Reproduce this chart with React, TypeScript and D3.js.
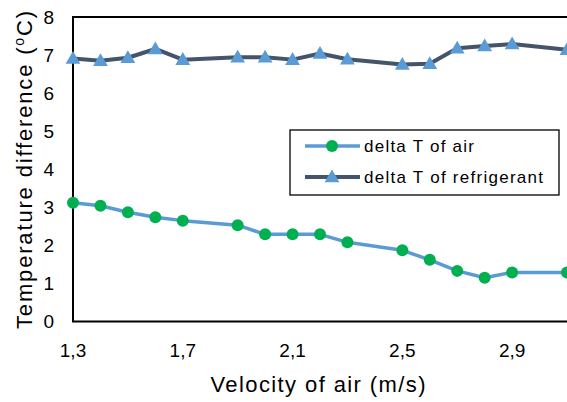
import * as d3 from "d3";
import { useEffect, useRef } from "react";

const velocity = [1.3, 1.4, 1.5, 1.6, 1.7, 1.9, 2.0, 2.1, 2.2, 2.3, 2.5, 2.6, 2.7, 2.8, 2.9, 3.1];
const deltaAir = [3.12, 3.04, 2.87, 2.74, 2.65, 2.53, 2.29, 2.29, 2.29, 2.08, 1.87, 1.62, 1.33, 1.15, 1.29, 1.29];
const deltaRefrigerant = [6.91, 6.85, 6.93, 7.16, 6.88, 6.94, 6.94, 6.88, 7.04, 6.89, 6.75, 6.77, 7.18, 7.24, 7.29, 7.14];
const xTicks = [1.3, 1.7, 2.1, 2.5, 2.9];
const yTicks = [0, 1, 2, 3, 4, 5, 6, 7, 8];
const seriesNames = ["delta T of air", "delta T of refrigerant"];

export default function App() {
  const svgRef = useRef<SVGSVGElement>(null);
  const width = 567;
  const height = 402;

  useEffect(() => {
    const svg = d3.select(svgRef.current);
    svg.selectAll("*").remove();
    // no serif font in the sandbox, so a sans stretched to the reference widths
    const font = "'Liberation Sans', Arial, sans-serif";

    const x = d3.scaleLinear([1.3, 3.1], [73, 567]);
    const y = d3.scaleLinear([0, 8], [321.5, 17]);

    svg.append("rect").attr("width", width).attr("height", height).attr("fill", "white");

    // plot frame
    svg.append("path")
      .attr("d", `M ${x(3.1) + 5} ${y(8)} H ${x(1.3)} V ${y(0)} H ${x(3.1) + 5}`)
      .attr("fill", "none")
      .attr("stroke", "black")
      .attr("stroke-width", 2);

    // y tick labels
    svg.selectAll(".ytick").data(yTicks).join("text")
      .attr("x", 54)
      .attr("y", d => y(d))
      .attr("dy", "0.36em")
      .attr("text-anchor", "end")
      .style("font-family", font)
      .style("font-size", "19px")
      .text(d => d);

    // x tick labels
    svg.selectAll(".xtick").data(xTicks).join("text")
      .attr("x", d => x(d))
      .attr("y", 357)
      .attr("text-anchor", "middle")
      .style("font-family", font)
      .style("font-size", "19px")
      .text(d => d.toFixed(1).replace(".", ","));

    // axis titles
    svg.append("text")
      .attr("x", 318)
      .attr("y", 392)
      .attr("text-anchor", "middle")
      .style("font-family", font)
      .style("font-size", "22px")
      .attr("textLength", 215)
      .text("Velocity of air (m/s)");

    const yTitle = svg.append("text")
      .attr("transform", `translate(32, ${170}) rotate(-90)`)
      .attr("text-anchor", "middle")
      .style("font-family", font)
      .style("font-size", "22px")
      .attr("textLength", 318);
    yTitle.append("tspan").text("Temperature difference (");
    yTitle.append("tspan").attr("baseline-shift", "super").style("font-size", "14px").text("o");
    yTitle.append("tspan").text("C)");

    const plot = svg.append("g");

    const air = velocity.map((v, i) => [v, deltaAir[i]] as [number, number]);
    const refr = velocity.map((v, i) => [v, deltaRefrigerant[i]] as [number, number]);
    const line = d3.line<[number, number]>().x(d => x(d[0])).y(d => y(d[1]));

    plot.append("path").attr("d", line(refr)).attr("fill", "none")
      .attr("stroke", "#44546A").attr("stroke-width", 4).attr("stroke-linejoin", "round");
    const tri = d3.symbol().type(d3.symbolTriangle).size(95);
    plot.selectAll(".tri").data(refr).join("path")
      .attr("d", tri)
      .attr("transform", d => `translate(${x(d[0])}, ${y(d[1]) + 1})`)
      .attr("fill", "#5B9BD5");

    plot.append("path").attr("d", line(air)).attr("fill", "none")
      .attr("stroke", "#5B9BD5").attr("stroke-width", 3.5).attr("stroke-linejoin", "round");
    plot.selectAll(".dot").data(air).join("circle")
      .attr("cx", d => x(d[0]))
      .attr("cy", d => y(d[1]))
      .attr("r", 6)
      .attr("fill", "#00B050");

    // legend
    const lg = svg.append("g");
    lg.append("rect").attr("x", 290).attr("y", 130).attr("width", 269).attr("height", 65)
      .attr("fill", "white").attr("stroke", "black").attr("stroke-width", 1.3);
    const rows = [
      { name: seriesNames[0], ly: 146, stroke: "#5B9BD5", sw: 3.5, len: 110 },
      { name: seriesNames[1], ly: 177, stroke: "#44546A", sw: 4, len: 179 },
    ];
    rows.forEach((r, i) => {
      lg.append("line").attr("x1", 305).attr("x2", 360).attr("y1", r.ly).attr("y2", r.ly)
        .attr("stroke", r.stroke).attr("stroke-width", r.sw);
      if (i === 0) {
        lg.append("circle").attr("cx", 332).attr("cy", r.ly).attr("r", 6).attr("fill", "#00B050");
      } else {
        lg.append("path").attr("d", tri).attr("transform", `translate(332, ${r.ly + 1})`).attr("fill", "#5B9BD5");
      }
      lg.append("text").attr("x", 364).attr("y", r.ly).attr("dy", "0.36em")
        .style("font-family", font).style("font-size", "17px")
        .attr("textLength", r.len)
        .text(r.name);
    });
  }, []);

  return (
    <svg ref={svgRef} width={width} height={height}
      style={{ position: "absolute", left: 0, top: 0, display: "block" }} />
  );
}
